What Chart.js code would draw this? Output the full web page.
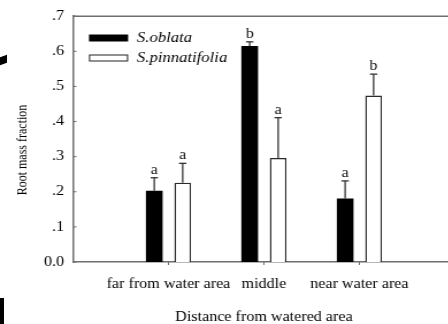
<!DOCTYPE html>
<html>
<head>
<meta charset="utf-8">
<script src="https://cdn.jsdelivr.net/npm/chart.js@4.4.1/dist/chart.umd.min.js"></script>
<style>
  html, body { margin: 0; padding: 0; background: #fff; overflow: hidden; width: 448px; height: 324px; }
  #wrap { position: absolute; left: 0; top: 0; width: 409px; height: 324px; transform: scaleX(1.15); transform-origin: 0 0; }
  .blot { position: absolute; background: #000; }
</style>
</head>
<body>
<div id="wrap"><canvas id="c"></canvas></div>
<div class="blot" style="left:0;top:56px;width:7px;height:8px;transform:skewY(-20deg);"></div>
<div class="blot" style="left:0;top:298px;width:4px;height:26px;"></div>
<script>
const categories = ['far from water area', 'middle', 'near water area'];
const seriesNames = ['S.oblata', 'S.pinnatifolia'];
const oblata = [0.203, 0.615, 0.181];
const oblataErr = [0.037, 0.012, 0.050];
const pinnatifolia = [0.226, 0.296, 0.474];
const pinnatifoliaErr = [0.055, 0.115, 0.061];
const oblataLetters = ['a', 'b', 'a'];
const pinnatifoliaLetters = ['a', 'a', 'b'];
const yTickLabels = ['0.0', '.1', '.2', '.3', '.4', '.5', '.6', '.7'];
const xTitle = 'Distance from watered area';
const yTitle = 'Root mass fraction';

const SERIF = '"Liberation Serif", "Times New Roman", serif';
const AXIS = '#6e6e6e';

// padded category list (empty slots at both ends of the axis)
const labels = [''].concat(categories, ['']);
const pad = arr => [null].concat(arr, [null]);

const extras = {
  id: 'extras',
  afterDatasetsDraw(chart) {
    const ctx = chart.ctx;
    const ca = chart.chartArea;
    const ys = chart.scales.y, xs = chart.scales.x;
    ctx.save();
    // top frame line
    ctx.strokeStyle = AXIS; ctx.lineWidth = 1.5;
    ctx.beginPath(); ctx.moveTo(ca.left, ca.top); ctx.lineTo(ca.right, ca.top); ctx.stroke();
    // y inner tick marks
    ctx.lineWidth = 1;
    ys.ticks.forEach(t => {
      const y = ys.getPixelForValue(t.value);
      ctx.beginPath(); ctx.moveTo(ca.left, y); ctx.lineTo(ca.left + 3, y); ctx.stroke();
    });
    // x outer tick marks at categories
    categories.forEach((c, i) => {
      const x = xs.getPixelForValue(i + 1);
      ctx.beginPath(); ctx.moveTo(x, ca.bottom); ctx.lineTo(x, ca.bottom + 3); ctx.stroke();
    });
    // error bars + letters
    chart.data.datasets.forEach((ds, di) => {
      const meta = chart.getDatasetMeta(di);
      meta.data.forEach((bar, i) => {
        const v = ds.data[i];
        if (v === null || v === undefined) return;
        const e = ds.errors[i];
        const x = bar.x;
        const y0 = ys.getPixelForValue(v);
        const y1 = ys.getPixelForValue(v + e);
        ctx.strokeStyle = '#333'; ctx.lineWidth = 1.3;
        ctx.beginPath(); ctx.moveTo(x, y0); ctx.lineTo(x, y1); ctx.stroke();
        ctx.beginPath(); ctx.moveTo(x - 3.2, y1); ctx.lineTo(x + 3.2, y1); ctx.stroke();
        ctx.fillStyle = '#111';
        ctx.font = '14px ' + SERIF;
        ctx.textAlign = 'center'; ctx.textBaseline = 'alphabetic';
        ctx.fillText(ds.letters[i], x, y1 - 4);
      });
    });
    // legend (inside plot, top-left)
    ctx.font = 'italic 14.5px ' + SERIF;
    ctx.textAlign = 'left'; ctx.textBaseline = 'middle';
    chart.data.datasets.forEach((ds, di) => {
      const cy = 38 + di * 20;
      const x0 = 77.4;
      if (ds.backgroundColor === '#000000') {
        ctx.fillStyle = '#000'; ctx.fillRect(x0, cy - 3.5, 34, 7);
      } else {
        ctx.fillStyle = '#fff'; ctx.fillRect(x0, cy - 3.5, 34, 7);
        ctx.strokeStyle = '#222'; ctx.lineWidth = 1; ctx.strokeRect(x0 + 0.5, cy - 3, 33, 6);
      }
      ctx.fillStyle = '#000';
      ctx.fillText(ds.label, 119.1, cy);
    });
    // y axis title
    ctx.save();
    ctx.translate(20, 150);
    ctx.rotate(-Math.PI / 2);
    ctx.font = '12px ' + SERIF;
    ctx.textAlign = 'center'; ctx.textBaseline = 'middle';
    ctx.fillStyle = '#000';
    ctx.fillText(yTitle, 0, 0);
    ctx.restore();
    ctx.restore();
  }
};

new Chart(document.getElementById('c'), {
  type: 'bar',
  data: {
    labels: labels,
    datasets: [
      {
        label: seriesNames[0], data: pad(oblata), errors: pad(oblataErr), letters: pad(oblataLetters),
        backgroundColor: '#000000', borderColor: '#000000', borderWidth: 0,
        categoryPercentage: 0.596, barPercentage: 0.587
      },
      {
        label: seriesNames[1], data: pad(pinnatifolia), errors: pad(pinnatifoliaErr), letters: pad(pinnatifoliaLetters),
        backgroundColor: '#ffffff', borderColor: '#2a2a2a', borderWidth: 1.4,
        categoryPercentage: 0.596, barPercentage: 0.587
      }
    ]
  },
  options: {
    responsive: true,
    maintainAspectRatio: false,
    animation: false,
    layout: { padding: { top: 13, right: 7, left: 0, bottom: 0 } },
    plugins: { legend: { display: false }, tooltip: { enabled: false } },
    scales: {
      x: {
        offset: false,
        grid: { display: false, drawTicks: false },
        border: { display: true, color: AXIS, width: 1.5 },
        ticks: { color: '#000', font: { family: SERIF, size: 14 }, padding: 13.5, maxRotation: 0, autoSkip: false },
        title: { display: true, text: xTitle, color: '#000', font: { family: SERIF, size: 14 }, padding: { top: 0, bottom: -1.5 } },
        afterFit(s) { s.height = 62; }
      },
      y: {
        min: 0, max: 0.7,
        grid: { display: false, drawTicks: false },
        border: { display: true, color: AXIS, width: 1.5 },
        ticks: { stepSize: 0.1, color: '#000', font: { family: SERIF, size: 14 }, padding: 7.8,
                 callback: (v, i) => yTickLabels[i] },
        afterFit(s) { s.width = 63.5; }
      }
    }
  },
  plugins: [extras]
});
</script>
</body>
</html>
